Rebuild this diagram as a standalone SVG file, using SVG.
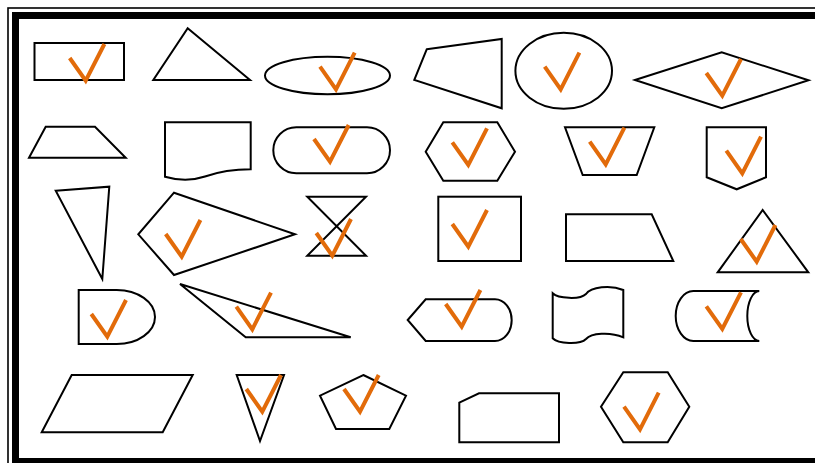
<svg xmlns="http://www.w3.org/2000/svg" xmlns:xlink="http://www.w3.org/1999/xlink" width="815" height="463" viewBox="0 0 815 463">
<style>
.s{fill:#fff;stroke:#000;stroke-width:2;stroke-linejoin:miter}
.ck{fill:none;stroke:#E26B0A;stroke-width:4;stroke-linecap:butt;stroke-linejoin:miter}
</style>
<defs>
<path id="check" class="ck" d="M-16,-22.7 L0,0 L18.7,-36.7"/>
</defs>
<rect width="815" height="463" fill="#fff"/>
<g id="frame" fill="none" stroke="#000">
<rect x="8" y="8" width="820" height="470" stroke-width="1.6"/>
<rect x="15.5" y="15.5" width="810" height="446" stroke-width="7"/>
</g>
<g id="connectors"/>
<g id="n1"><rect class="s" x="34.5" y="43" width="89.5" height="37"/><use xlink:href="#check" href="#check" x="85.7" y="80.7"/></g>
<g id="n2"><polygon class="s" points="187.7,28.3 250,80 153.3,80"/></g>
<g id="n3"><ellipse class="s" cx="327.5" cy="75.5" rx="62.5" ry="18.8"/><use xlink:href="#check" href="#check" x="336" y="89.3"/></g>
<g id="n4"><polygon class="s" points="426.7,49.3 501.7,39 501.7,108.3 414.3,80"/></g>
<g id="n5"><ellipse class="s" cx="563.7" cy="70.8" rx="48.3" ry="38"/><use xlink:href="#check" href="#check" x="560.7" y="89.3"/></g>
<g id="n6"><polygon class="s" points="635,80 721.7,52.3 808.5,80.3 721.7,108.3"/><use xlink:href="#check" href="#check" x="722.3" y="95.7"/></g>
<g id="n7"><polygon class="s" points="45.7,126.7 95,126.7 125.7,157.7 29,157.7"/></g>
<g id="n8"><path class="s" d="M165,122.3 H250.7 V169.3 C232,169.3 218,172 205,176.5 C190,181.5 178,180.5 165,176.7 Z"/></g>
<g id="n9"><rect class="s" x="273.3" y="127.3" width="116.7" height="46" rx="23" ry="23"/><use xlink:href="#check" href="#check" x="330" y="161.7"/></g>
<g id="n10"><polygon class="s" points="443.3,122.3 497.3,122.3 515,151.7 497.3,180.7 443.3,180.7 425.7,151.7"/><use xlink:href="#check" href="#check" x="468.3" y="165"/></g>
<g id="n11"><polygon class="s" points="565,127.3 654.3,127.3 636.7,175 582.7,175"/><use xlink:href="#check" href="#check" x="605.7" y="164.3"/></g>
<g id="n12"><polygon class="s" points="706.7,127.3 766,127.3 766,177.3 736.7,189.3 706.7,177.3"/><use xlink:href="#check" href="#check" x="742.3" y="173.3"/></g>
<g id="n13"><polygon class="s" points="55.7,190.7 109.3,186.7 102.3,279"/></g>
<g id="n14"><polygon class="s" points="174,192.7 295,234.3 174,275 138.3,234.3"/><use xlink:href="#check" href="#check" x="181.7" y="256.7"/></g>
<g id="n15"><polygon class="s" points="307.3,196.7 366,196.7 307.3,255.7 366,255.7"/><use xlink:href="#check" href="#check" x="332.3" y="255.7"/></g>
<g id="n16"><rect class="s" x="438.3" y="196.7" width="82.7" height="64.3"/><use xlink:href="#check" href="#check" x="468.3" y="246.7"/></g>
<g id="n17"><polygon class="s" points="566,214.3 651.7,214.3 673.3,261 566,261"/></g>
<g id="n18"><polygon class="s" points="762.7,210 808.3,272.3 717.7,272.3"/><use xlink:href="#check" href="#check" x="756.7" y="261.7"/></g>
<g id="n19"><path class="s" d="M78.7,290 H116.7 A38.3,27 0 0 1 116.7,344 H78.7 Z"/><use xlink:href="#check" href="#check" x="107.3" y="336.7"/></g>
<g id="n20"><polygon class="s" points="180,284 350.7,337.3 245.7,337.3"/><use xlink:href="#check" href="#check" x="252.3" y="329.3"/></g>
<g id="n21"><path class="s" d="M407.7,320 L425.7,299.3 H495 A16.7,20.85 0 0 1 495,341 H425.7 Z"/><use xlink:href="#check" href="#check" x="461.7" y="326.7"/></g>
<g id="n22"><path class="s" d="M552.7,293.3 C558,298.5 580,300 586,294 C591,287 610,284.5 623.3,290 V337.3 C610,331.5 591,333 586,339 C580,345 558,344 552.7,338.3 Z"/></g>
<g id="n23"><path class="s" d="M693.3,291 H759.3 A12,25 0 0 0 759.3,341 H693.3 A17.6,25 0 0 1 693.3,291 Z"/><use xlink:href="#check" href="#check" x="722.3" y="329"/></g>
<g id="n24"><polygon class="s" points="71.7,375 192.7,375 162.7,432.3 41.7,432.3"/></g>
<g id="n25"><polygon class="s" points="236.7,375 284,375 260,441"/><use xlink:href="#check" href="#check" x="262.3" y="411.7"/></g>
<g id="n26"><polygon class="s" points="363.3,375 406,395.7 389.3,429 336,429 320,395.7"/><use xlink:href="#check" href="#check" x="360" y="411.7"/></g>
<g id="n27"><polygon class="s" points="459.3,402.7 479,393.3 559,393.3 559,442.3 459.3,442.3"/></g>
<g id="n28"><polygon class="s" points="623.3,372.3 667.7,372.3 689.3,406.7 667.7,442.3 623.3,442.3 601,406.7"/><use xlink:href="#check" href="#check" x="640" y="429.3"/></g>
</svg>
